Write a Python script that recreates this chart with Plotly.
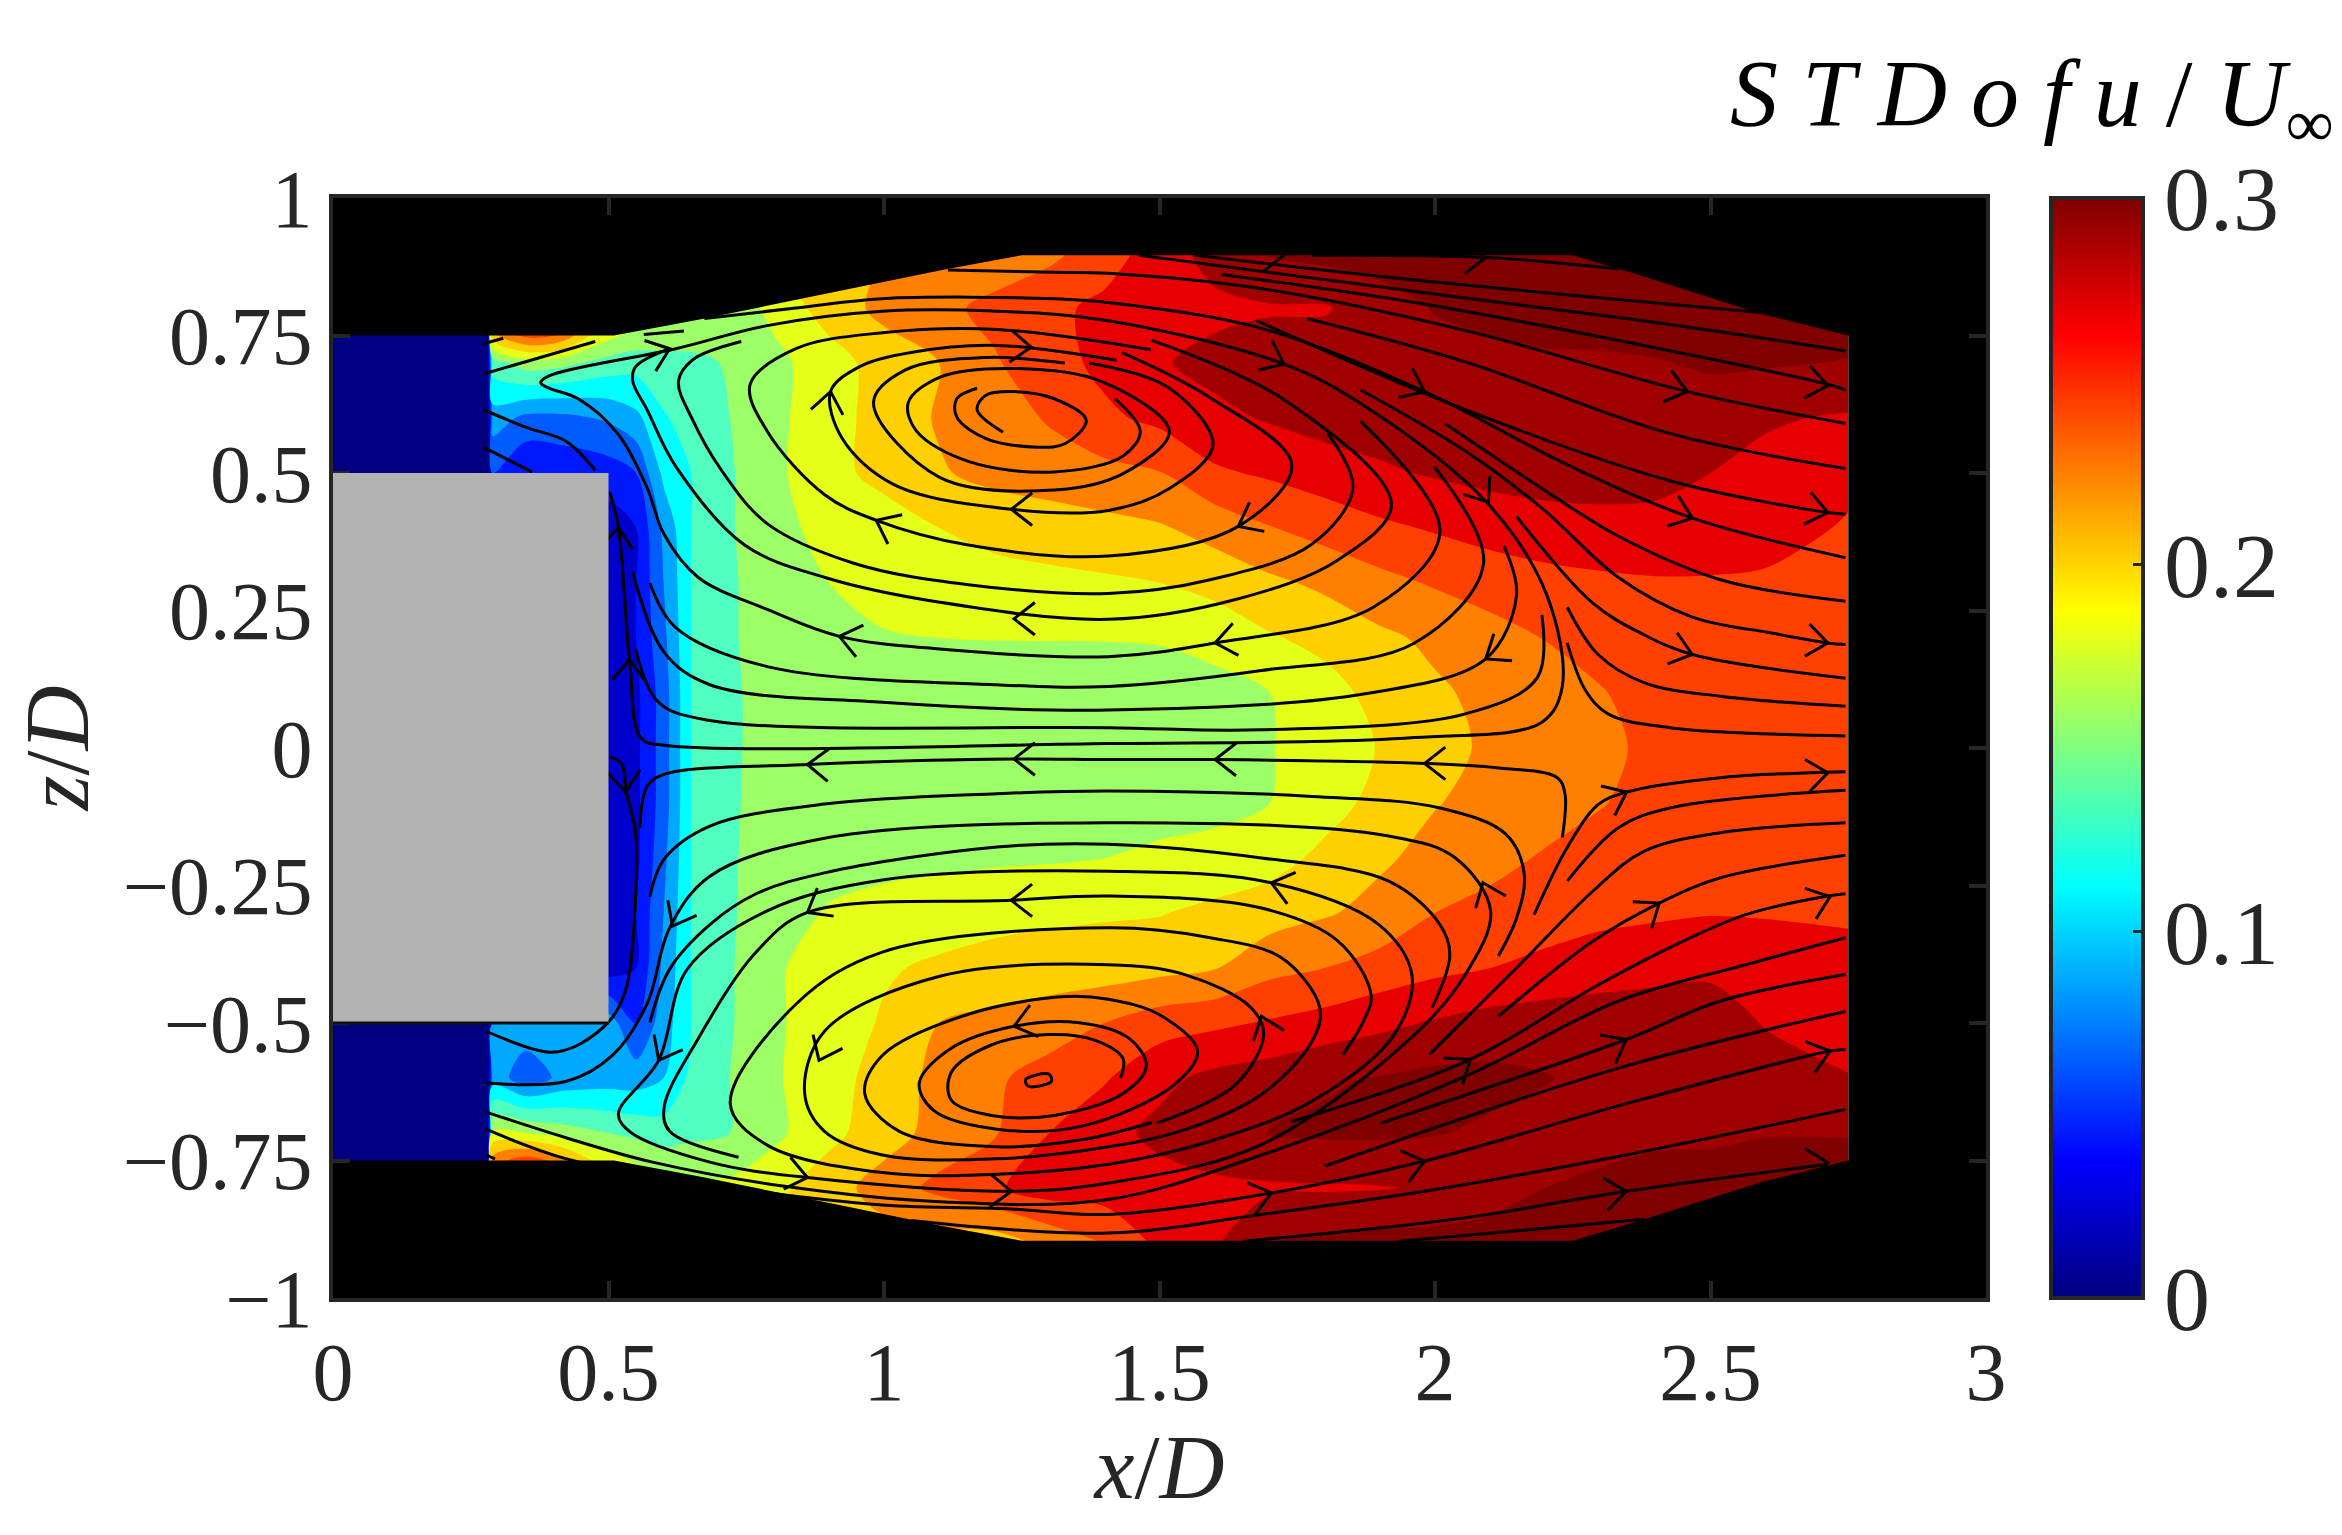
import math
import plotly.graph_objects as go

# ---------- data ----------
X_COLS = [.28,.29,.35,.42,.50,.55,.60,.65,.72,.80,.90,1.0,1.1,1.2,1.3,1.4,1.5,1.6,1.7,1.8,1.9,2.0,2.1,2.2,2.3,2.4,2.5,2.6,2.75]
Z_ROWS = [.9,.8,.7,.6,.5,.4,.3,.2,.1,0,-.1,-.2,-.3,-.4,-.5,-.6,-.7,-.8,-.9]
STD_U = [
 [0,.25,.30,.28,.22,.2,.19,.18,.17,.18,.19,.2,.205,.208,.215,.23,.25,.268,.282,.287,.288,.29,.29,.29,.29,.29,.29,.29,.29],
 [0,.25,.30,.28,.2,.18,.17,.16,.15,.165,.19,.205,.215,.225,.235,.245,.25,.255,.258,.258,.272,.281,.285,.288,.29,.29,.29,.29,.29],
 [0,.13,.15,.145,.132,.128,.132,.135,.142,.155,.17,.19,.2,.218,.232,.245,.258,.266,.27,.272,.273,.274,.275,.277,.277,.279,.282,.282,.279],
 [0,.09,.075,.075,.083,.095,.118,.128,.14,.155,.172,.188,.202,.21,.222,.236,.245,.255,.262,.268,.27,.272,.273,.275,.275,.275,.272,.262,.258],
 [0,.06,.04,.045,.05,.06,.105,.12,.138,.155,.175,.185,.198,.206,.21,.214,.219,.237,.243,.25,.257,.262,.266,.268,.268,.266,.26,.255,.245],
 [0,.03,.03,.03,.03,.04,.085,.12,.138,.155,.165,.172,.18,.186,.19,.194,.198,.207,.219,.228,.236,.242,.248,.252,.254,.254,.252,.248,.238],
 [0,.03,.03,.03,.03,.04,.08,.12,.138,.148,.16,.165,.17,.173,.175,.177,.18,.188,.196,.204,.214,.222,.228,.233,.236,.238,.238,.237,.236],
 [0,.03,.03,.03,.03,.04,.075,.12,.138,.148,.155,.159,.16,.1605,.1605,.1605,.161,.164,.178,.186,.196,.204,.213,.2205,.226,.23,.233,.235,.236],
 [0,.02,.02,.02,.025,.035,.07,.12,.138,.145,.148,.15,.15,.15,.152,.153,.154,.156,.16,.172,.187,.197,.205,.213,.219,.226,.23,.233,.236],
 [0,.02,.02,.02,.025,.035,.07,.12,.138,.145,.148,.15,.15,.15,.15,.15,.152,.155,.159,.17,.181,.194,.203,.21,.217,.223,.228,.232,.236],
 [0,.02,.02,.02,.025,.035,.07,.12,.138,.146,.148,.15,.15,.152,.152,.153,.154,.155,.16,.172,.186,.199,.206,.211,.219,.226,.23,.233,.236],
 [0,.02,.02,.02,.03,.035,.075,.12,.138,.148,.152,.154,.155,.157,.158,.16,.163,.166,.172,.185,.197,.206,.214,.222,.227,.231,.234,.236,.237],
 [0,.03,.03,.03,.03,.04,.08,.12,.138,.15,.162,.167,.171,.174,.176,.178,.179,.185,.191,.198,.206,.22,.226,.231,.235,.237,.239,.238,.236],
 [0,.03,.03,.03,.03,.04,.085,.12,.138,.157,.17,.178,.183,.187,.19,.19,.194,.199,.214,.22,.228,.235,.24,.245,.25,.254,.257,.256,.25],
 [0,.08,.09,.10,.09,.06,.09,.12,.138,.157,.17,.182,.2,.205,.21,.22,.231,.236,.242,.248,.255,.262,.268,.271,.272,.271,.268,.259,.25],
 [0,.09,.07,.085,.09,.09,.1,.125,.14,.158,.17,.19,.205,.217,.228,.238,.255,.265,.27,.278,.281,.285,.285,.281,.275,.272,.27,.267,.261],
 [0,.165,.16,.15,.14,.135,.13,.135,.14,.155,.175,.19,.208,.218,.24,.253,.265,.272,.281,.283,.283,.281,.277,.274,.275,.277,.276,.279,.279],
 [0,.25,.30,.26,.2,.18,.17,.165,.165,.175,.19,.21,.225,.237,.25,.25,.252,.256,.257,.258,.259,.262,.27,.28,.283,.286,.29,.29,.29],
 [0,.25,.3,.26,.22,.2,.19,.18,.18,.185,.19,.19,.19,.19,.205,.22,.245,.258,.281,.285,.287,.288,.29,.29,.29,.29,.29,.29,.29],
]

BAND_COLORS = ["#000080","#0000CC","#0018FF","#005CFF","#00A8FF","#00FFFF","#50FFC0","#9CFF68",
               "#E4FF18","#FFD000","#FF8000","#FF4000","#E80000","#A00000","#800000"]

MASK_TOP = [(.27,.92),(2.76,.92),(2.76,.75),(2.75,.75),(2.59,.79),(2.37,.86),(2.25,.896),(1.25,.896),(1.11,.87),(.67,.78),(.51,.75),(.27,.75)]
MASK_BOTTOM = [(.27,-.92),(2.76,-.92),(2.76,-.75),(2.75,-.75),(2.59,-.79),(2.37,-.86),(2.25,-.896),(1.25,-.896),(1.11,-.87),(.67,-.78),(.51,-.75),(.27,-.75)]

STREAMLINES = [
 # upper right
 [(1.777,.896),(2.092,.892),(2.333,.871)],
 [(1.564,.896),(1.963,.851),(2.592,.792)],
 [(1.463,.896),(2.055,.818),(2.426,.770),(2.745,.722)],
 [(1.613,.861),(1.963,.81),(2.333,.741),(2.713,.661),(2.745,.651)],
 [(1.116,.869),(1.309,.865),(1.407,.863),(1.685,.835),(2.055,.759),(2.458,.648),(2.745,.590)],
 [(1.768,.781),(2.055,.702),(2.426,.572),(2.745,.508)],
 [(1.676,.777),(2.055,.615),(2.426,.486),(2.713,.428),(2.745,.425)],
 [(.674,.781),(.84,.80),(.997,.817),(1.309,.817),(1.407,.810),(1.685,.763),(1.981,.648),(2.24,.515),(2.467,.418),(2.745,.346)],
 [(2.018,.590),(2.194,.472),(2.333,.385),(2.518,.306),(2.745,.267)],
 [(1.865,.651),(2.055,.540),(2.194,.436),(2.333,.310),(2.467,.238),(2.611,.209),(2.713,.191),(2.745,.188)],
 [(2.148,.421),(2.287,.263),(2.379,.206),(2.467,.170),(2.745,.127)],
 [(2.240,.256),(2.296,.170),(2.379,.119),(2.518,.094),(2.745,.076)],
 [(2.240,.191),(2.273,.105),(2.314,.062),(2.426,.037),(2.745,.022)],
 # upper vortex
 [(1.216,.574),(1.169,.615),(1.184,.641),(1.236,.648),(1.309,.635),(1.367,.596),(1.33,.554),(1.278,.547),(1.184,.563),(1.132,.602),(1.132,.635),(1.169,.654)],
 [(1.419,.635),(1.465,.576),(1.434,.531),(1.309,.502),(1.153,.521),(1.059,.576),(1.044,.628),(1.101,.674),(1.236,.690),(1.393,.667),(1.518,.576),(1.434,.499),(1.309,.469),(1.101,.492),(.981,.628),(1.038,.687),(1.184,.710),(1.328,.700)],
 [(1.372,.700),(1.518,.654),(1.597,.551),(1.518,.472),(1.407,.432),(1.231,.434),(1.018,.479),(.924,.563),(.903,.648),(.955,.693),(1.049,.719),(1.205,.732),(1.422,.705)],
 [(1.432,.719),(1.592,.637),(1.740,.515),(1.643,.403),(1.407,.349),(1.153,.369),(.986,.414),(.893,.460),(.788,.576),(.757,.661),(.84,.726),(.997,.755),(1.205,.761),(1.484,.724)],
 [(1.805,.572),(1.851,.472),(1.777,.371),(1.592,.306),(1.407,.281),(1.153,.297),(.945,.336),(.788,.408),(.705,.505),(.653,.596),(.627,.667),(.653,.706),(.741,.739)],
 [(1.486,.741),(1.731,.630),(1.921,.443),(1.824,.342),(1.638,.270),(1.407,.234),(1.101,.265),(.893,.310),(.747,.369),(.622,.512),(.57,.615),(.544,.667),(.549,.693),(.611,.726)],
 [(1.865,.594),(2.009,.393),(1.888,.256),(1.601,.191),(1.407,.166),(1.101,.180),(.919,.203),(.788,.252),(.663,.310),(.601,.388),(.57,.473),(.518,.570),(.445,.635),(.393,.654),(.377,.664),(.393,.677),(.622,.726),(.788,.768),(.997,.794),(1.205,.794),(1.407,.777),(1.726,.698),(1.870,.623),(2.097,.443),(2.203,.278),(2.231,.112),(2.194,.047),(1.963,.019),(1.407,.008),(.601,.005),(.559,.018),(.538,.161),(.518,.401),(.502,.466)],
 [(1.999,.511),(2.088,.335),(1.963,.191),(1.685,.141),(1.407,.112),(1.205,.115),(.788,.148),(.622,.219),(.575,.300)],
 [(2.125,.367),(2.148,.278),(2.092,.162),(1.870,.098),(1.407,.069),(.997,.083),(.684,.115),(.601,.174),(.544,.320)],
 [(2.194,.242),(2.185,.127),(2.055,.062),(1.685,.033),(1.407,.037),(.684,.050),(.591,.083),(.549,.180)],
 # centre
 [(2.231,-.163),(2.236,-.084),(2.222,-.054),(2.111,-.036),(1.981,-.028),(1.601,-.021),(1.407,-.021),(1.236,-.020),(.861,-.030),(.601,-.048),(.57,-.07),(.557,-.146)],
 # lower vortex
 [(.575,-.271),(.601,-.202),(.684,-.142),(.892,-.102),(1.205,-.083),(1.407,-.078),(1.777,-.088),(2.009,-.109),(2.129,-.157),(2.162,-.230),(2.148,-.309),(2.115,-.378)],
 [(.575,-.499),(.611,-.402),(.684,-.321),(.768,-.265),(.892,-.227),(1.205,-.180),(1.407,-.175),(1.685,-.200),(1.916,-.242),(2.009,-.321),(2.027,-.376),(1.995,-.472)],
 [(.736,-.744),(.611,-.697),(.601,-.653),(.663,-.528),(.768,-.371),(.861,-.299),(1.231,-.277),(1.407,-.269),(1.685,-.291),(1.824,-.351),(1.884,-.448),(1.870,-.497),(1.833,-.557)],
 [(1.495,-.682),(1.638,-.612),(1.689,-.521),(1.666,-.472),(1.546,-.412),(1.407,-.394),(1.101,-.415),(.892,-.515),(.856,-.628),(.892,-.697),(.997,-.740),(1.205,-.747),(1.407,-.725),(1.546,-.694),(1.685,-.630),(1.777,-.533),(1.791,-.472),(1.722,-.382),(1.592,-.345),(1.407,-.327),(.997,-.371),(.841,-.465),(.721,-.647),(.788,-.722),(.997,-.772),(1.205,-.775),(1.407,-.757),(1.592,-.715),(1.777,-.642),(1.926,-.521),(1.958,-.412),(1.898,-.321),(1.703,-.245),(1.407,-.224),(.997,-.240),(.788,-.296),(.643,-.402),(.591,-.568),(.518,-.665),(.538,-.697),(.684,-.753),(.861,-.781),(1.231,-.806),(1.407,-.791),(1.685,-.721),(1.963,-.521),(2.055,-.412),(2.101,-.297),(2.037,-.200),(1.916,-.160),(1.407,-.136),(.892,-.164),(.684,-.233),(.611,-.327),(.570,-.465),(.507,-.559),(.424,-.606),(.278,-.609)],
 [(1.429,-.600),(1.434,-.565),(1.382,-.531),(1.299,-.521),(1.195,-.540),(1.122,-.590),(1.122,-.640),(1.195,-.668),(1.309,-.668),(1.434,-.628),(1.476,-.578),(1.445,-.528),(1.351,-.499),(1.236,-.506),(1.122,-.546),(1.064,-.609),(1.090,-.659),(1.205,-.693),(1.361,-.687),(1.527,-.612),(1.569,-.551),(1.500,-.485),(1.407,-.457),(1.330,-.452),(1.153,-.484),(.997,-.559),(.965,-.628),(1.028,-.697),(1.205,-.725),(1.361,-.712),(1.486,-.681)],
 [(1.257,-.603),(1.299,-.593),(1.304,-.606),(1.262,-.615),(1.257,-.603)],
 [(.502,-.017),(.523,-.027),(.533,-.083),(.549,-.152),(.549,-.277),(.533,-.434),(.507,-.490),(.445,-.540),(.393,-.553),(.278,-.515)],
 # lower right
 [(.278,-.662),(.424,-.709),(.580,-.753),(.82,-.797),(1.101,-.825),(1.407,-.821),(1.685,-.74),(2.055,-.597),(2.333,-.460),(2.564,-.394),(2.745,-.345)],
 [(.278,-.693),(.424,-.747),(.684,-.794),(.997,-.831),(1.231,-.838),(1.407,-.848),(1.703,-.809),(1.981,-.751),(2.342,-.648),(2.717,-.551),(2.745,-.548)],
 [(1.049,-.859),(1.407,-.882),(1.685,-.848),(1.981,-.806),(2.351,-.739),(2.745,-.657)],
 [(1.652,-.897),(2.055,-.854),(2.347,-.806),(2.713,-.757)],
 [(1.935,-.897),(2.379,-.857)],
 [(1.8,-.760),(2.333,-.582),(2.745,-.479)],
 [(1.902,-.682),(2.347,-.530),(2.518,-.460),(2.745,-.412)],
 [(1.740,-.679),(2.064,-.566),(2.287,-.436),(2.426,-.363),(2.564,-.303),(2.713,-.269),(2.745,-.265)],
 [(2.115,-.488),(2.287,-.351),(2.407,-.282),(2.518,-.236),(2.745,-.195)],
 [(1.990,-.557),(2.148,-.400),(2.287,-.260),(2.379,-.188),(2.518,-.154),(2.745,-.136)],
 [(2.240,-.242),(2.333,-.145),(2.426,-.109),(2.745,-.077)],
 [(2.180,-.303),(2.240,-.181),(2.296,-.103),(2.348,-.080),(2.518,-.054),(2.745,-.043)],
 # upper left
 [(.273,.615),(.351,.583),(.424,.557),(.476,.505)],
 [(.273,.547),(.361,.502)],
 [(.273,.680),(.476,.739)],
 [(.564,.752),(.637,.758)],
 [(.273,.735),(.309,.745)],
 [(.278,-.740),(.294,-.747)],
]

# arrow tip x, z and direction of travel in degrees
ARROWS = [
 (.611,.726,20),(1.267,.729,-3),(.903,.648,80),(1.231,.434,180),(.986,.414,154),(.919,.203,167),
 (.518,.401,85),(.538,.161,88),(1.236,.235,180),(1.643,.403,207),(1.726,.698,-25),(1.981,.648,-25),
 (2.458,.648,-15),(2.713,.659,-10),(2.467,.418,-20),(2.713,.428,-12),(2.097,.447,-55),(2.092,.162,214),
 (1.601,.191,190),(2.467,.170,-17),(2.713,.191,-8),(1.601,-.021,180),(1.981,-.028,180),(2.348,-.080,25),
 (2.713,-.045,8),(1.236,-.020,180),(.861,-.030,178),(.531,-.080,-85),(.616,-.324,242),(.861,-.299,210),
 (1.231,-.277,180),(.591,-.568,242),(.882,-.568,245),(1.236,-.506,195),(.861,-.781,-12),(1.231,-.806,-2),
 (1.703,-.245,165),(2.087,-.245,112),(1.685,-.488,110),(2.064,-.566,35),(2.347,-.530,28),(2.407,-.282,35),
 (2.717,-.270,20),(2.717,-.551,17),(1.703,-.809,15),(1.981,-.751,15),(2.347,-.806,8),(2.713,-.754,6),
 (1.726,.896,0),(2.092,.892,0),
]

X_TICKS = [0,.5,1,1.5,2,2.5,3]
X_LABELS = ["0","0.5","1","1.5","2","2.5","3"]
Z_TICKS = [-1,-.75,-.5,-.25,0,.25,.5,.75,1]
Z_LABELS = ["\u22121","\u22120.75","\u22120.5","\u22120.25","0","0.25","0.5","0.75","1"]
CB_TICKS = [0,.1,.2,.3]
CB_LABELS = ["0","0.1","0.2","0.3"]

# ---------- styling ----------
DARK = "#262626"
SERIF = "Liberation Serif"
JET = [[0,"#000080"],[.125,"#0000FF"],[.375,"#00FFFF"],[.625,"#FFFF00"],[.875,"#FF0000"],[1,"#800000"]]
n = len(BAND_COLORS)
stepped = []
for i, c in enumerate(BAND_COLORS):
    stepped += [[i/n, c], [(i+1)/n, c]]

fig = go.Figure()
fig.add_trace(go.Contour(
    x=X_COLS, y=Z_ROWS, z=STD_U, zmin=0, zmax=.3, colorscale=stepped, showscale=False,
    autocontour=False, contours=dict(start=0, end=.3, size=.02, coloring="fill", showlines=False),
    line=dict(width=0, smoothing=.9), hoverinfo="skip"))
for poly in (MASK_TOP, MASK_BOTTOM):
    fig.add_trace(go.Scatter(x=[p[0] for p in poly], y=[p[1] for p in poly], mode="lines",
                             fill="toself", fillcolor="black", line=dict(width=0, color="black"),
                             hoverinfo="skip", showlegend=False))
for line in STREAMLINES:
    fig.add_trace(go.Scatter(x=[p[0] for p in line], y=[p[1] for p in line], mode="lines",
                             line=dict(color="black", width=3, shape="spline", smoothing=1),
                             hoverinfo="skip", showlegend=False))
BARB = .048
SPREAD = 38
ax, ay = [], []
for tx, tz, d in ARROWS:
    a1 = math.radians(d + 180 - SPREAD)
    a2 = math.radians(d + 180 + SPREAD)
    ax += [tx + BARB*math.cos(a1), tx, tx + BARB*math.cos(a2), None]
    ay += [tz + BARB*math.sin(a1), tz, tz + BARB*math.sin(a2), None]
fig.add_trace(go.Scatter(x=ax, y=ay, mode="lines", line=dict(color="black", width=3),
                         hoverinfo="skip", showlegend=False))
# carrier of the colour bar, outside the visible range
fig.add_trace(go.Scatter(x=[-5,-5], y=[0,0], mode="markers", showlegend=False, hoverinfo="skip",
    marker=dict(size=1, color=[0,.3], cmin=0, cmax=.3, colorscale=JET, showscale=True,
        colorbar=dict(x=(2043-325)/(1978-325), xanchor="left", xpad=0, ypad=0, y=.5, yanchor="middle",
            len=1, lenmode="fraction", thicknessmode="pixels", thickness=92,
            outlinecolor=DARK, outlinewidth=4, ticks="inside", ticklen=12, tickwidth=3, tickcolor=DARK,
            tickmode="array", tickvals=CB_TICKS, ticktext=CB_LABELS,
            tickfont=dict(family=SERIF, size=92, color=DARK)))))

shapes = [
    dict(type="rect", x0=0, x1=.28, y0=.5, y1=.75, fillcolor="#000080", line_width=0, layer="below"),
    dict(type="rect", x0=0, x1=.28, y0=-.75, y1=-.5, fillcolor="#000080", line_width=0, layer="below"),
    dict(type="rect", x0=0, x1=.5, y0=-.5, y1=.5, fillcolor="#B2B2B2", line_width=0, layer="above"),
    dict(type="line", x0=0, x1=.5, y0=-.5, y1=-.5, line=dict(color="#111111", width=3), layer="above"),
]
axis_common = dict(showgrid=False, zeroline=False, showline=True, mirror="ticks", linecolor=DARK, linewidth=4,
                   ticks="inside", ticklen=17, tickwidth=4, tickcolor=DARK, tickmode="array",
                   tickfont=dict(family=SERIF, size=82, color=DARK))
fig.update_layout(
    width=2342, height=1535, autosize=False, paper_bgcolor="white", plot_bgcolor="black",
    margin=dict(l=325, r=2342-1978, t=190, b=1535-1290), showlegend=False, shapes=shapes,
    xaxis=dict(range=[0,3], tickvals=X_TICKS, ticktext=X_LABELS,
               title=dict(text="<i>x</i>/<i>D</i>", standoff=6, font=dict(family=SERIF, size=90, color=DARK)),
               **axis_common),
    yaxis=dict(range=[-1,1], tickvals=Z_TICKS, ticktext=Z_LABELS,
               title=dict(text="<i>z</i>/<i>D</i>", standoff=10, font=dict(family=SERIF, size=90, color=DARK)),
               **axis_common),
    annotations=[dict(text="<i>S T D o f u</i> / <i>U</i><sub>\u221e</sub>", xref="paper", yref="paper",
                      x=(2328-325)/(1978-325), y=1+(190-30)/1100, xanchor="right", yanchor="top", showarrow=False,
                      font=dict(family=SERIF, size=96, color="black"))],
)
fig.write_html("out.html")
